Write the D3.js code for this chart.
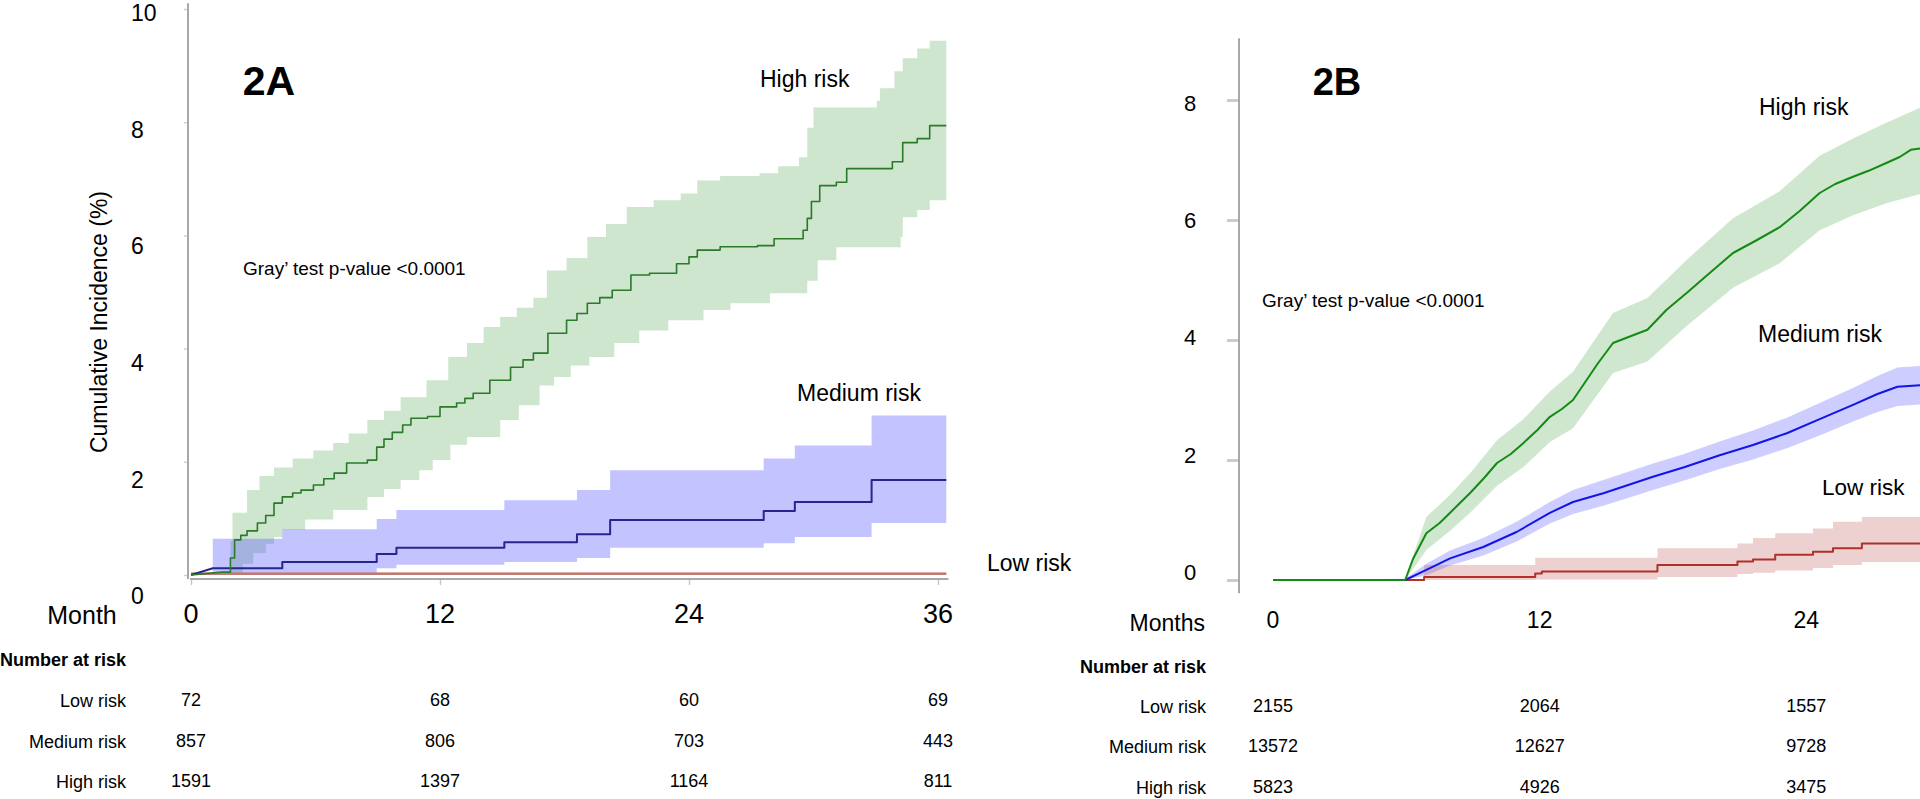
<!DOCTYPE html>
<html lang="en">
<head>
<meta charset="UTF-8">
<title>Cumulative incidence 2A / 2B</title>
<style>
  body { margin: 0; padding: 0; background: #fff; }
  svg { display: block; }
  text { font-family: "Liberation Sans", Arial, sans-serif; fill: #000; }
</style>
</head>
<body>
<script src="https://d3js.org/d3.v7.min.js"></script>
<script>
// ---------- data ----------
const monthTicks = [0, 12, 24, 36];
const yTicksA = [0, 2, 4, 6, 8, 10];
const yTicksB = [0, 2, 4, 6, 8];
const riskGroups = ['Low risk', 'Medium risk', 'High risk'];

// panel 2A, number at risk (0, 12, 24, 36 months)
const atRiskLowA = [72, 68, 60, 69];
const atRiskMedA = [857, 806, 703, 443];
const atRiskHighA = [1591, 1397, 1164, 811];
// panel 2B (0, 12, 24 months)
const atRiskLowB = [2155, 2064, 1557];
const atRiskMedB = [13572, 12627, 9728];
const atRiskHighB = [5823, 4926, 3475];

// 2A high risk (step curve)
const highA_t = [0, 1.5, 1.9, 2.1, 2.4, 2.7, 3.2, 3.6, 4.0, 4.4, 4.9, 5.3, 5.9, 6.4, 6.9, 7.5, 8.5, 8.95, 9.3, 9.7, 10.2, 10.6, 11.4, 12.0, 12.8, 13.2, 13.6, 14.4, 15.4, 16.0, 16.5, 17.2, 18.1, 18.6, 19.1, 19.7, 20.3, 21.2, 22.1, 23.4, 24.0, 24.4, 25.5, 27.3, 28.1, 29.5, 29.7, 29.9, 30.3, 31.1, 31.6, 33.8, 34.3, 35.0, 35.6, 36.4];
const highA_v = [0, 0.05, 0.3, 0.62, 0.7, 0.78, 0.92, 1.05, 1.27, 1.38, 1.45, 1.5, 1.59, 1.7, 1.8, 1.98, 2.03, 2.26, 2.4, 2.52, 2.65, 2.77, 2.8, 2.97, 3.04, 3.12, 3.21, 3.44, 3.67, 3.8, 3.92, 4.27, 4.5, 4.62, 4.8, 4.9, 5.03, 5.3, 5.33, 5.5, 5.62, 5.74, 5.8, 5.82, 5.94, 6.09, 6.3, 6.6, 6.88, 6.94, 7.18, 7.3, 7.64, 7.71, 7.94, 7.94];
const highA_upT = [1.9, 2.0, 2.7, 3.3, 4.0, 4.9, 5.9, 6.85, 7.6, 8.5, 9.3, 10.1, 11.35, 12.4, 13.3, 14.1, 14.9, 15.7, 16.5, 17.15, 18.1, 19.1, 20.0, 21.0, 22.3, 23.6, 24.4, 25.5, 27.4, 28.3, 29.3, 29.7, 30.0, 33.05, 33.2, 33.9, 34.3, 35.0, 35.6, 36.4];
const highA_up = [0.6, 1.1, 1.5, 1.75, 1.9, 2.06, 2.2, 2.33, 2.5, 2.74, 2.9, 3.14, 3.44, 3.85, 4.1, 4.38, 4.56, 4.72, 4.9, 5.38, 5.6, 5.97, 6.2, 6.5, 6.62, 6.74, 6.97, 7.05, 7.1, 7.22, 7.38, 7.9, 8.26, 8.38, 8.6, 8.9, 9.13, 9.3, 9.44, 9.44];
const highA_loT = [1.9, 2.0, 2.5, 3.0, 3.6, 4.0, 4.4, 5.5, 6.85, 8.5, 9.3, 10.1, 11.0, 11.65, 12.5, 13.3, 14.9, 15.8, 16.8, 17.5, 18.3, 19.2, 20.4, 21.6, 23.0, 24.7, 26.0, 27.9, 29.7, 30.2, 31.1, 34.2, 34.3, 35.0, 35.6, 36.4];
const highA_lo = [0, 0.04, 0.2, 0.39, 0.55, 0.67, 0.8, 0.98, 1.15, 1.38, 1.52, 1.68, 1.85, 2.03, 2.3, 2.44, 2.74, 3.0, 3.35, 3.5, 3.7, 3.85, 4.1, 4.32, 4.5, 4.68, 4.8, 4.98, 5.2, 5.56, 5.79, 5.97, 6.32, 6.45, 6.62, 6.62];

// 2A medium risk
const medA_t = [0, 1.05, 4.4, 8.95, 9.9, 15.1, 18.6, 20.2, 27.6, 29.1, 32.8, 36.4];
const medA_v = [0, 0.12, 0.23, 0.37, 0.48, 0.58, 0.72, 0.97, 1.13, 1.29, 1.68, 1.68];
const medA_bandT = [1.05, 4.4, 8.95, 9.9, 15.1, 18.6, 20.2, 27.6, 29.1, 32.8, 36.4];
const medA_up = [0.64, 0.81, 0.99, 1.15, 1.32, 1.5, 1.85, 2.06, 2.29, 2.82, 2.82];
const medA_lo = [0, 0, 0.12, 0.18, 0.23, 0.3, 0.48, 0.56, 0.67, 0.92, 0.92];

// 2A low risk
const lowA_t = [0, 36.4];
const lowA_v = [0.02, 0.02];
const lowA_up = [0.05, 0.05];
const lowA_lo = [0, 0];

// 2B high risk
const highB_t = [0, 5.95, 6.3, 6.9, 7.5, 7.97, 8.4, 8.87, 9.5, 10.08, 10.7, 11.26, 11.9, 12.46, 13.0, 13.5, 13.96, 14.6, 15.3, 16.0, 16.85, 17.7, 18.6, 19.6, 20.7, 21.7, 22.8, 23.7, 24.6, 25.3, 26.1, 26.8, 27.6, 28.2, 28.7, 29.3];
const highB_v = [0, 0, 0.35, 0.78, 0.95, 1.12, 1.28, 1.45, 1.7, 1.95, 2.1, 2.28, 2.5, 2.72, 2.85, 3.0, 3.25, 3.6, 3.95, 4.05, 4.17, 4.5, 4.78, 5.1, 5.45, 5.65, 5.88, 6.15, 6.45, 6.6, 6.72, 6.82, 6.95, 7.05, 7.17, 7.2];
const highB_bandT = [5.95, 6.9, 7.97, 8.87, 10.08, 11.26, 12.46, 13.5, 15.3, 16.85, 18.6, 20.7, 22.8, 24.6, 26.1, 27.6, 29.3];
const highB_up = [0.02, 1.05, 1.42, 1.78, 2.33, 2.68, 3.14, 3.47, 4.45, 4.7, 5.33, 6.03, 6.48, 7.07, 7.36, 7.62, 7.9];
const highB_lo = [0, 0.5, 0.82, 1.12, 1.57, 1.88, 2.3, 2.53, 3.45, 3.64, 4.23, 4.87, 5.28, 5.83, 6.08, 6.28, 6.45];

// 2B medium risk
const medB_t = [0, 5.95, 6.9, 7.97, 9.46, 10.96, 12.46, 13.5, 14.9, 17.1, 18.5, 20.1, 21.6, 23.15, 24.6, 26.1, 27.2, 28.1, 29.3];
const medB_v = [0, 0, 0.17, 0.36, 0.55, 0.8, 1.12, 1.3, 1.45, 1.72, 1.88, 2.08, 2.25, 2.45, 2.68, 2.92, 3.1, 3.22, 3.25];
const medB_up = [0, 0.02, 0.27, 0.49, 0.7, 0.97, 1.3, 1.5, 1.67, 1.94, 2.1, 2.31, 2.49, 2.71, 2.95, 3.2, 3.4, 3.54, 3.57];
const medB_lo = [0, 0, 0.08, 0.24, 0.41, 0.64, 0.94, 1.1, 1.24, 1.5, 1.66, 1.85, 2.01, 2.2, 2.41, 2.64, 2.8, 2.9, 2.93];

// 2B low risk (step curve)
const lowB_t = [0, 6.8, 11.8, 12.1, 17.3, 20.9, 21.6, 22.6, 24.3, 25.2, 26.5, 29.3];
const lowB_v = [0, 0.05, 0.11, 0.14, 0.25, 0.31, 0.34, 0.42, 0.47, 0.53, 0.61, 0.61];
const lowB_bandT = [6.8, 11.8, 17.3, 20.9, 21.6, 22.6, 24.3, 25.2, 26.5, 29.3];
const lowB_up = [0.25, 0.37, 0.53, 0.61, 0.7, 0.78, 0.86, 0.97, 1.05, 1.05];
const lowB_lo = [0, 0.01, 0.05, 0.1, 0.12, 0.16, 0.2, 0.25, 0.3, 0.3];

// ---------- canvas ----------
const width = 1920, height = 799;
const svg = d3.select('body').append('svg')
    .attr('width', width)
    .attr('height', height);

const axisColor = '#a8a8a8';

// step function -> corner points, ramp = first segment drawn straight
function stepPts(times, values, ramp) {
    const pts = [[times[0], values[0]]];
    for (let i = 1; i < times.length; i++) {
        if (!(ramp && i === 1)) pts.push([times[i], values[i - 1]]);
        pts.push([times[i], values[i]]);
    }
    return pts;
}
function zipPts(times, values) {
    return times.map((t, i) => [t, values[i]]);
}

function drawBand(g, x, y, upPts, loPts, fill) {
    const line = d3.line().x(d => x(d[0])).y(d => y(d[1]));
    g.append('path')
        .attr('d', line(upPts.concat(loPts.slice().reverse())) + 'Z')
        .attr('fill', fill)
        .attr('stroke', 'none');
}
function drawLine(g, x, y, pts, color, w) {
    const line = d3.line().x(d => x(d[0])).y(d => y(d[1]));
    g.append('path')
        .attr('d', line(pts))
        .attr('fill', 'none')
        .attr('stroke', color)
        .attr('stroke-width', w)
        .attr('stroke-linejoin', 'round');
}

// ================= Panel 2A =================
const xA = d3.scaleLinear().domain([0, 36]).range([191, 938]);
const yA = d3.scaleLinear().domain([0, 10]).range([575, 9]);
const labelYA = d3.scaleLinear().domain([0, 10]).range([596, 13]);

const gA = svg.append('g');

// bands
drawBand(gA, xA, yA, stepPts(highA_upT, highA_up), stepPts(highA_loT, highA_lo), 'rgba(60,150,60,0.25)');
drawBand(gA, xA, yA, stepPts(medA_bandT, medA_up), stepPts(medA_bandT, medA_lo), 'rgba(90,90,255,0.36)');
drawBand(gA, xA, yA, zipPts(lowA_t, lowA_up), zipPts(lowA_t, lowA_lo), 'rgba(200,120,120,0.35)');
// lines
drawLine(gA, xA, yA, stepPts(lowA_t, lowA_v), '#c07a72', 2.5);
drawLine(gA, xA, yA, stepPts(medA_t, medA_v, true), '#26268e', 2);
drawLine(gA, xA, yA, stepPts(highA_t, highA_v, true), '#2a7a2a', 1.6);

// y axis
gA.append('g')
    .attr('transform', 'translate(188,0)')
    .call(d3.axisLeft(yA).tickValues(yTicksA).tickSize(4).tickFormat(''))
    .call(g => g.select('.domain').remove())
    .call(g => g.selectAll('line').attr('stroke', '#d0d0d0').attr('stroke-width', 1.5));
gA.append('line')
    .attr('x1', 188).attr('x2', 188)
    .attr('y1', yA(10.1)).attr('y2', yA(-0.07))
    .attr('stroke', axisColor).attr('stroke-width', 2);
gA.selectAll('.ylabA').data(yTicksA).enter().append('text')
    .attr('x', 131).attr('y', d => labelYA(d)).attr('dy', '0.36em')
    .attr('font-size', 23).text(d => d);
gA.append('text')
    .attr('transform', 'translate(107,322) rotate(-90)')
    .attr('text-anchor', 'middle').attr('font-size', 23)
    .text('Cumulative Incidence (%)');

// x axis
gA.append('g')
    .attr('transform', 'translate(0,579)')
    .call(d3.axisBottom(xA).tickValues(monthTicks).tickSize(6).tickFormat(''))
    .call(g => g.select('.domain').remove())
    .call(g => g.selectAll('line').attr('stroke', '#c8c8c8').attr('stroke-width', 1.5));
gA.append('line')
    .attr('x1', xA(-0.05)).attr('x2', xA(36.5))
    .attr('y1', 579).attr('y2', 579)
    .attr('stroke', axisColor).attr('stroke-width', 2);
gA.selectAll('.xlabA').data(monthTicks).enter().append('text')
    .attr('x', d => xA(d)).attr('y', 623)
    .attr('text-anchor', 'middle').attr('font-size', 27).text(d => d);
gA.append('text').attr('x', 82).attr('y', 624)
    .attr('text-anchor', 'middle').attr('font-size', 25).text('Month');

// annotations
gA.append('text').attr('x', 269).attr('y', 95)
    .attr('text-anchor', 'middle').attr('font-size', 41).attr('font-weight', 'bold').text('2A');
gA.append('text').attr('x', 243).attr('y', 275)
    .attr('font-size', 19).text('Gray’ test p-value <0.0001');
gA.append('text').attr('x', 760).attr('y', 87).attr('font-size', 23).text('High risk');
gA.append('text').attr('x', 797).attr('y', 401).attr('font-size', 23).text('Medium risk');
gA.append('text').attr('x', 987).attr('y', 571).attr('font-size', 23).text('Low risk');

// number at risk
const rowsA = [atRiskLowA, atRiskMedA, atRiskHighA];
const rowBaseA = [706, 747, 787];
gA.append('text').attr('x', 126).attr('y', 666)
    .attr('text-anchor', 'end').attr('font-size', 18).attr('font-weight', 'bold').text('Number at risk');
riskGroups.forEach((name, r) => {
    gA.append('text').attr('x', 126).attr('y', rowBaseA[r] + 1)
        .attr('text-anchor', 'end').attr('font-size', 18).text(name);
    gA.selectAll('.rowA' + r).data(rowsA[r]).enter().append('text')
        .attr('x', (d, i) => xA(monthTicks[i])).attr('y', rowBaseA[r])
        .attr('text-anchor', 'middle').attr('font-size', 18).text(d => d);
});

// ================= Panel 2B =================
const xB = d3.scaleLinear().domain([0, 36]).range([1273, 2073]);
const yB = d3.scaleLinear().domain([0, 8]).range([580, 100]);
const labelYB = d3.scaleLinear().domain([0, 8]).range([572, 103]);
// panel 2B is cut at the right edge: only ticks that fall on the page
const monthTicksB = monthTicks.filter(m => xB(m) < width - 20);

const gB = svg.append('g');

drawBand(gB, xB, yB, zipPts(highB_bandT, highB_up), zipPts(highB_bandT, highB_lo), 'rgba(60,160,60,0.25)');
drawBand(gB, xB, yB, zipPts(medB_t, medB_up), zipPts(medB_t, medB_lo), 'rgba(90,90,255,0.3)');
drawBand(gB, xB, yB, stepPts(lowB_bandT, lowB_up), stepPts(lowB_bandT, lowB_lo), 'rgba(190,90,90,0.28)');
drawLine(gB, xB, yB, stepPts(lowB_t, lowB_v), '#b0302a', 2);
drawLine(gB, xB, yB, zipPts(medB_t, medB_v), '#1414e6', 2);
drawLine(gB, xB, yB, zipPts(highB_t, highB_v), '#148a14', 2);

// y axis
gB.append('g')
    .attr('transform', 'translate(1239,0)')
    .call(d3.axisLeft(yB).tickValues(yTicksB).tickSize(12).tickFormat(''))
    .call(g => g.select('.domain').remove())
    .call(g => g.selectAll('line').attr('stroke', '#cccccc').attr('stroke-width', 3));
gB.append('line')
    .attr('x1', 1239).attr('x2', 1239)
    .attr('y1', yB(9.03)).attr('y2', yB(-0.22))
    .attr('stroke', axisColor).attr('stroke-width', 2);
gB.selectAll('.ylabB').data(yTicksB).enter().append('text')
    .attr('x', 1190).attr('y', d => labelYB(d)).attr('dy', '0.36em')
    .attr('text-anchor', 'middle').attr('font-size', 22).text(d => d);

// x labels (no axis line in this panel)
gB.selectAll('.xlabB').data(monthTicksB).enter().append('text')
    .attr('x', d => xB(d)).attr('y', 628)
    .attr('text-anchor', 'middle').attr('font-size', 23).text(d => d);
gB.append('text').attr('x', 1205).attr('y', 631)
    .attr('text-anchor', 'end').attr('font-size', 23).text('Months');

gB.append('text').attr('x', 1337).attr('y', 95)
    .attr('text-anchor', 'middle').attr('font-size', 38).attr('font-weight', 'bold').text('2B');
gB.append('text').attr('x', 1262).attr('y', 307)
    .attr('font-size', 19).text('Gray’ test p-value <0.0001');
gB.append('text').attr('x', 1759).attr('y', 115).attr('font-size', 23).text('High risk');
gB.append('text').attr('x', 1758).attr('y', 342).attr('font-size', 23).text('Medium risk');
gB.append('text').attr('x', 1822).attr('y', 495).attr('font-size', 22.5).text('Low risk');

const rowsB = [atRiskLowB, atRiskMedB, atRiskHighB];
const rowBaseB = [712, 752, 793];
gB.append('text').attr('x', 1206).attr('y', 673)
    .attr('text-anchor', 'end').attr('font-size', 18).attr('font-weight', 'bold').text('Number at risk');
riskGroups.forEach((name, r) => {
    gB.append('text').attr('x', 1206).attr('y', rowBaseB[r] + 1)
        .attr('text-anchor', 'end').attr('font-size', 18).text(name);
    gB.selectAll('.rowB' + r).data(rowsB[r]).enter().append('text')
        .attr('x', (d, i) => xB(monthTicks[i])).attr('y', rowBaseB[r])
        .attr('text-anchor', 'middle').attr('font-size', 18).text(d => d);
});
</script>
</body>
</html>
